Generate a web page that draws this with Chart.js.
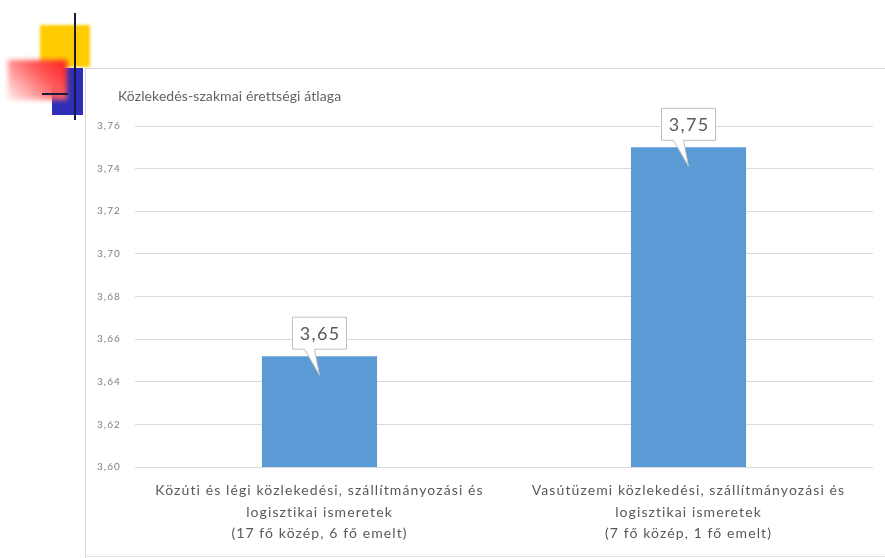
<!DOCTYPE html>
<html>
<head>
<meta charset="utf-8">
<script src="https://cdn.jsdelivr.net/npm/chart.js@4.4.0/dist/chart.umd.min.js"></script>
<style>
  html, body { margin:0; padding:0; background:#fff; width:885px; height:558px; overflow:hidden; }
  #wrap { position:relative; width:885px; height:558px; }
  canvas { position:absolute; left:0; top:0; }
  .d { position:absolute; }
  #title { position:absolute; left:118px; top:87px; font-family:Lato, "Open Sans", sans-serif; font-size:14px; letter-spacing:0.1px; color:#636363; white-space:nowrap; }
</style>
</head>
<body>
<div id="wrap">
  <canvas id="c" width="885" height="558"></canvas>
  <!-- slide frame lines -->
  <div class="d" style="left:85px;top:68px;width:800px;height:1px;background:#d9d9d9"></div>
  <div class="d" style="left:85px;top:68px;width:1px;height:490px;background:#d9d9d9"></div>
  <div class="d" style="left:85px;top:556px;width:800px;height:1px;background:#e3e3e3"></div>
  <!-- decoration -->
  <div class="d" style="left:40px;top:25px;width:50px;height:42px;background:#ffcc00;filter:blur(1.5px)"></div>
  <div class="d" style="left:52px;top:68px;width:31px;height:47px;background:#2e2eb8"></div>
  <div class="d" style="left:8px;top:60px;width:59px;height:40px;background:linear-gradient(225deg,#ff1a1a 0%,#ff5c5c 40%,rgba(255,190,190,0.25) 100%);filter:blur(2.5px)"></div>
  <div class="d" style="left:74px;top:13px;width:2px;height:107px;background:#1a1a40"></div>
  <div class="d" style="left:42px;top:93px;width:26px;height:2px;background:#1a1a40"></div>
  <div id="title">Közlekedés-szakmai érettségi átlaga</div>
</div>
<script>
const categories = [
  ["Közúti és légi közlekedési, szállítmányozási és", "logisztikai ismeretek", "(17 fő közép, 6 fő emelt)"],
  ["Vasútüzemi közlekedési, szállítmányozási és", "logisztikai ismeretek", "(7 fő közép, 1 fő emelt)"]
];
const averages = [3.652, 3.75];
const yMin = 3.60, yMax = 3.76, yStep = 0.02;

const fmt = v => Number(v).toFixed(2).replace('.', ',');

const spacingPlugin = {
  id: 'spacing',
  beforeDraw(chart) { chart.ctx.letterSpacing = '1.1px'; },
  afterDraw(chart) { chart.ctx.letterSpacing = '0px'; }
};

const calloutPlugin = {
  id: 'callout',
  afterDatasetsDraw(chart) {
    const ctx = chart.ctx;
    const meta = chart.getDatasetMeta(0);
    meta.data.forEach((el, i) => {
      const x = el.x, y = el.y;
      const w = 54, h = 32;
      const bottom = y - 7, top = bottom - h;
      const left = x - w / 2, right = x + w / 2;
      ctx.save();
      ctx.beginPath();
      ctx.moveTo(left, top);
      ctx.lineTo(right, top);
      ctx.lineTo(right, bottom);
      ctx.lineTo(x - 5, bottom);
      ctx.lineTo(x, y + 19);
      ctx.lineTo(x - 15, bottom);
      ctx.lineTo(left, bottom);
      ctx.closePath();
      ctx.fillStyle = '#ffffff';
      ctx.fill();
      ctx.strokeStyle = '#bfbfbf';
      ctx.lineWidth = 1;
      ctx.stroke();
      ctx.letterSpacing = '1.4px';
      ctx.fillStyle = '#595959';
      ctx.font = '18px Lato, "Open Sans", sans-serif';
      ctx.textAlign = 'center';
      ctx.textBaseline = 'middle';
      ctx.fillText(fmt(averages[i]), x + 0.7, top + h / 2 + 1);
      ctx.restore();
    });
  }
};

new Chart(document.getElementById('c'), {
  type: 'bar',
  data: {
    labels: categories,
    datasets: [{
      data: averages,
      backgroundColor: '#5b9bd5',
      borderWidth: 0,
      categoryPercentage: 1,
      barPercentage: 0.312
    }]
  },
  options: {
    responsive: false,
    animation: false,
    devicePixelRatio: 1,
    layout: { padding: { left: 86, right: 12, top: 126, bottom: 0 } },
    plugins: { legend: { display: false }, tooltip: { enabled: false }, title: { display: false } },
    scales: {
      x: {
        grid: { display: false, drawTicks: false },
        border: { display: false },
        ticks: {
          color: '#595959',
          font: { family: 'Lato, "Open Sans", sans-serif', size: 14, lineHeight: '21.5px' },
          padding: 13,
          maxRotation: 0,
          autoSkip: false
        },
        afterFit: s => { s.height = 91; }
      },
      y: {
        min: yMin, max: yMax,
        grid: { color: '#d9d9d9', drawTicks: false },
        border: { display: false },
        ticks: {
          stepSize: yStep,
          color: '#7f7f7f',
          padding: 14,
          font: { family: 'Lato, "Open Sans", sans-serif', size: 10 },
          callback: v => fmt(v)
        },
        afterFit: s => { s.width = 49; }
      }
    }
  },
  plugins: [spacingPlugin, calloutPlugin]
});
</script>
</body>
</html>
